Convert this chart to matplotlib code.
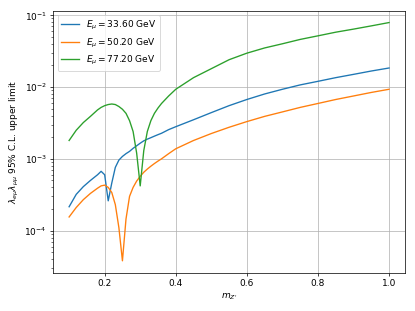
import matplotlib
matplotlib.use("Agg")
import matplotlib.pyplot as plt

# Z' mass points
m_left = [0.10, 0.12, 0.14, 0.16, 0.18, 0.19, 0.20, 0.21, 0.22, 0.23, 0.24, 0.25,
          0.26, 0.27, 0.28, 0.29, 0.30, 0.31, 0.32, 0.33, 0.34, 0.35, 0.36, 0.38]
m_right = [0.40, 0.45, 0.50, 0.55, 0.60, 0.65, 0.70, 0.75, 0.80, 0.85, 0.90, 0.95, 1.00]
mass = m_left + m_right

energies = [33.60, 50.20, 77.20]

lim_33 = [2.15e-4, 3.2e-4, 4.1e-4, 5.0e-4, 6.0e-4, 6.7e-4, 6.0e-4, 2.6e-4, 4.6e-4, 7.6e-4, 9.6e-4, 1.08e-3,
          1.18e-3, 1.27e-3, 1.4e-3, 1.52e-3, 1.65e-3, 1.78e-3, 1.88e-3, 1.97e-3, 2.07e-3, 2.17e-3, 2.27e-3, 2.55e-3,
          2.8e-3, 3.5e-3, 4.4e-3, 5.5e-3, 6.7e-3, 8.0e-3, 9.3e-3, 1.07e-2, 1.2e-2, 1.35e-2, 1.5e-2, 1.67e-2, 1.84e-2]
lim_50 = [1.55e-4, 2.1e-4, 2.7e-4, 3.3e-4, 3.9e-4, 4.2e-4, 4.3e-4, 4.0e-4, 3.4e-4, 2.3e-4, 1.1e-4, 3.8e-5,
          1.45e-4, 3.0e-4, 4.0e-4, 4.9e-4, 5.7e-4, 6.5e-4, 7.2e-4, 7.9e-4, 8.6e-4, 9.3e-4, 1.0e-3, 1.18e-3,
          1.38e-3, 1.8e-3, 2.25e-3, 2.75e-3, 3.3e-3, 3.9e-3, 4.5e-3, 5.2e-3, 5.9e-3, 6.7e-3, 7.5e-3, 8.4e-3, 9.3e-3]
lim_77 = [1.8e-3, 2.5e-3, 3.2e-3, 3.9e-3, 4.8e-3, 5.2e-3, 5.5e-3, 5.7e-3, 5.8e-3, 5.7e-3, 5.35e-3, 4.9e-3,
          4.3e-3, 3.4e-3, 2.4e-3, 1.2e-3, 4.2e-4, 1.3e-3, 2.4e-3, 3.4e-3, 4.3e-3, 5.1e-3, 5.9e-3, 7.5e-3,
          9.3e-3, 1.35e-2, 1.8e-2, 2.4e-2, 2.96e-2, 3.5e-2, 4.0e-2, 4.6e-2, 5.16e-2, 5.8e-2, 6.4e-2, 7.1e-2, 7.9e-2]

limits = [lim_33, lim_50, lim_77]

fig, ax = plt.subplots(figsize=(6.4, 4.8), dpi=415 / 6.4)
fig.subplots_adjust(left=0.128, right=0.976, top=0.965, bottom=0.123)

for E, lim in zip(energies, limits):
    ax.plot(mass, lim, label=rf'$E_\mu = {E:.2f}$ GeV')

ax.set_yscale('log')
ax.set_xlabel(r"$m_{Z'}$")
ax.set_ylabel(r'$\lambda_{e\mu}\lambda_{\mu\mu}$ 95% C.L. upper limit')
ax.grid(True)
ax.legend(loc='upper left')

fig.savefig('out.png', dpi=415 / 6.4)
